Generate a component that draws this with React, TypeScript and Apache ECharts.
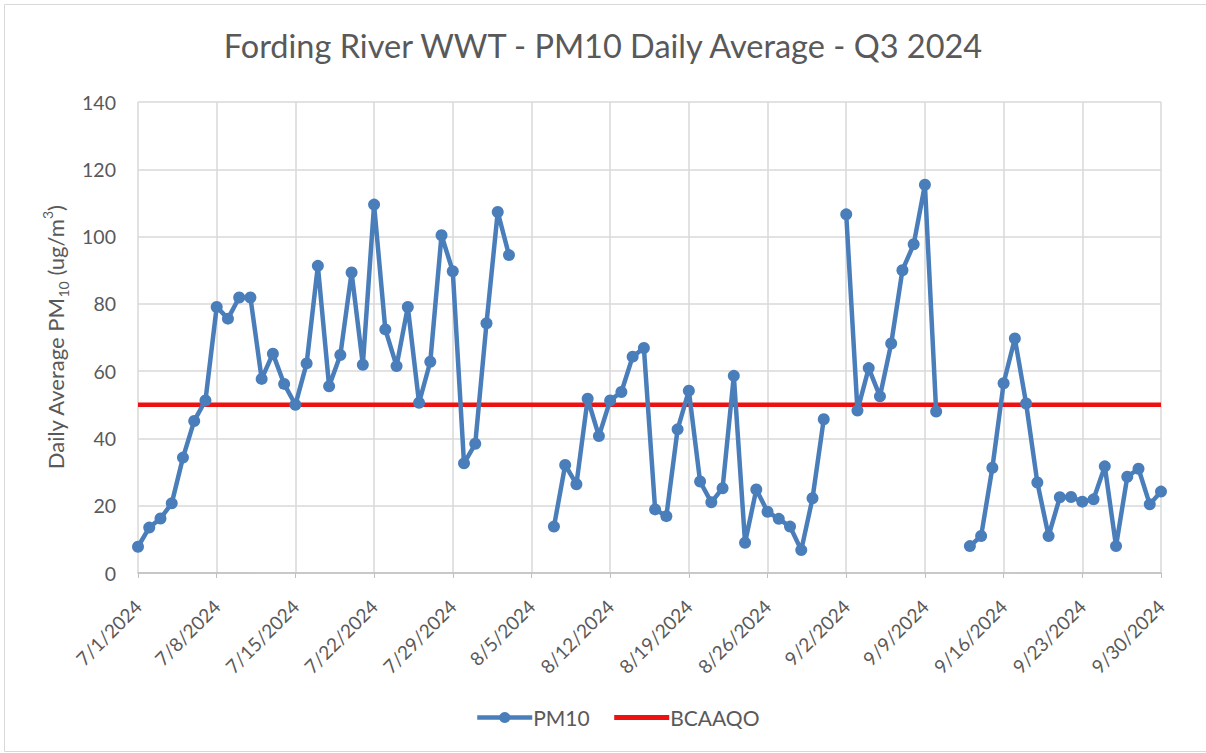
import React, { useEffect, useRef } from "react";
import * as echarts from "echarts";

const TITLE = "Fording River WWT - PM10 Daily Average - Q3 2024";
const START = { year: 2024, month: 7, day: 1 };
const DAY_COUNT = 92;

// categories: daily dates 7/1/2024 .. 9/30/2024
const dates: string[] = (() => {
  const out: string[] = [];
  const d = new Date(START.year, START.month - 1, START.day);
  for (let i = 0; i < DAY_COUNT; i++) {
    out.push(`${d.getMonth() + 1}/${d.getDate()}/${d.getFullYear()}`);
    d.setDate(d.getDate() + 1);
  }
  return out;
})();

// PM10 daily averages (ug/m3), null = no data
const pm10: (number | null)[] = [
  7.8, 13.5, 16.2, 20.7, 34.3, 45.2, 51.3,
  79.1, 75.6, 81.9, 81.9, 57.7, 65.2, 56.2,
  50.0, 62.3, 91.3, 55.5, 64.8, 89.3, 61.9,
  109.5, 72.4, 61.5, 79.1, 50.6, 62.8, 100.4,
  89.7, 32.6, 38.4, 74.2, 107.3, 94.5, null,
  null, null, 13.8, 32.1, 26.4, 51.8, 40.7,
  51.3, 53.8, 64.3, 66.9, 18.9, 16.9, 42.7,
  54.2, 27.2, 21.0, 25.2, 58.6, 9.0, 24.8,
  18.2, 16.1, 13.8, 6.8, 22.2, 45.7, null,
  106.6, 48.3, 60.9, 52.5, 68.2, 90.0, 97.7,
  115.4, 48.0, null, null, 8.0, 11.0, 31.3,
  56.4, 69.7, 50.4, 26.9, 11.0, 22.5, 22.6,
  21.2, 21.9, 31.7, 8.0, 28.6, 31.0, 20.4,
  24.2,
];

const BCAAQO_LIMIT = 50;
const yTicks = { min: 0, max: 140, interval: 20 };

const FONT = "Lato";
const TEXT = "#595959";
const BLUE = "#4a7ebb";
const RED = "#ee1111";

export default function App() {
  const ref = useRef<HTMLDivElement>(null);
  useEffect(() => {
    if (!ref.current) return;
    const chart = echarts.init(ref.current, null, { renderer: "svg" });
    chart.setOption({
      animation: false,
      backgroundColor: "#ffffff",
      textStyle: { fontFamily: FONT, color: TEXT },
      title: {
        text: TITLE,
        left: "center",
        top: 24,
        textStyle: { fontFamily: FONT, fontSize: 32.5, fontWeight: "normal", color: TEXT },
      },
      graphic: [
        {
          type: "rect",
          shape: { x: 4.5, y: 4.5, width: 1210, height: 747 },
          style: { fill: "none", stroke: "#d9d9d9", lineWidth: 1 },
          silent: true,
        },
      ],
      legend: {
        bottom: 20,
        left: 470,
        itemWidth: 55,
        itemHeight: 14,
        itemGap: 22,
        textStyle: { fontFamily: FONT, fontSize: 21, color: TEXT, padding: [0, 0, 0, -4] },
        data: [
          { name: "PM10", lineStyle: { width: 4.5, color: BLUE } },
          {
            name: "BCAAQO",
            lineStyle: { width: 5, color: RED },
            itemStyle: { opacity: 0, color: "rgba(0,0,0,0)", borderWidth: 0 },
          },
        ],
      },
      grid: { left: 138, right: 45, top: 102, bottom: 180, containLabel: false },
      xAxis: {
        type: "category",
        data: dates,
        boundaryGap: false,
        axisLine: { show: true, lineStyle: { color: "#bfbfbf", width: 1.5 } },
        axisTick: { show: true, interval: 6, length: 5, lineStyle: { color: "#bfbfbf" } },
        axisLabel: {
          interval: 6,
          rotate: 45,
          margin: 30,
          fontFamily: FONT,
          fontSize: 19,
          color: TEXT,
        },
        splitLine: { show: true, interval: 6, lineStyle: { color: "#d9d9d9", width: 1.5 } },
      },
      yAxis: {
        type: "value",
        min: yTicks.min,
        max: yTicks.max,
        interval: yTicks.interval,
        axisLine: { show: false },
        axisTick: { show: false },
        axisLabel: { fontFamily: FONT, fontSize: 19.5, color: TEXT, margin: 22 },
        splitLine: { show: true, lineStyle: { color: "#d9d9d9", width: 1.5 } },
        name: "{a|Daily Average PM}{sub|10}{a| (ug/m}{sup|3}{a|)}",
        nameLocation: "middle",
        nameRotate: 90,
        nameGap: 68,
        nameTextStyle: {
          rich: {
            a: { fontFamily: FONT, fontSize: 22, color: TEXT, lineHeight: 30 },
            sub: { fontFamily: FONT, fontSize: 14, color: TEXT, lineHeight: 16, verticalAlign: "bottom" },
            sup: { fontFamily: FONT, fontSize: 14, color: TEXT, lineHeight: 16, verticalAlign: "top" },
          },
        },
      },
      series: [
        {
          name: "PM10",
          type: "line",
          data: pm10,
          connectNulls: false,
          symbol: "circle",
          symbolSize: 12,
          showSymbol: true,
          showAllSymbol: true,
          itemStyle: { color: BLUE },
          lineStyle: { color: BLUE, width: 4.5 },
          z: 3,
        },
        {
          name: "BCAAQO",
          type: "line",
          data: [
            [dates[0], BCAAQO_LIMIT],
            [dates[dates.length - 1], BCAAQO_LIMIT],
          ],
          symbol: "none",
          itemStyle: { color: RED },
          lineStyle: { color: RED, width: 4.5 },
          z: 2,
        },
      ],
    });
    return () => chart.dispose();
  }, []);
  return (
    <div
      ref={ref}
      style={{ position: "fixed", left: 0, top: 0, width: 1206, height: 753 }}
    />
  );
}
